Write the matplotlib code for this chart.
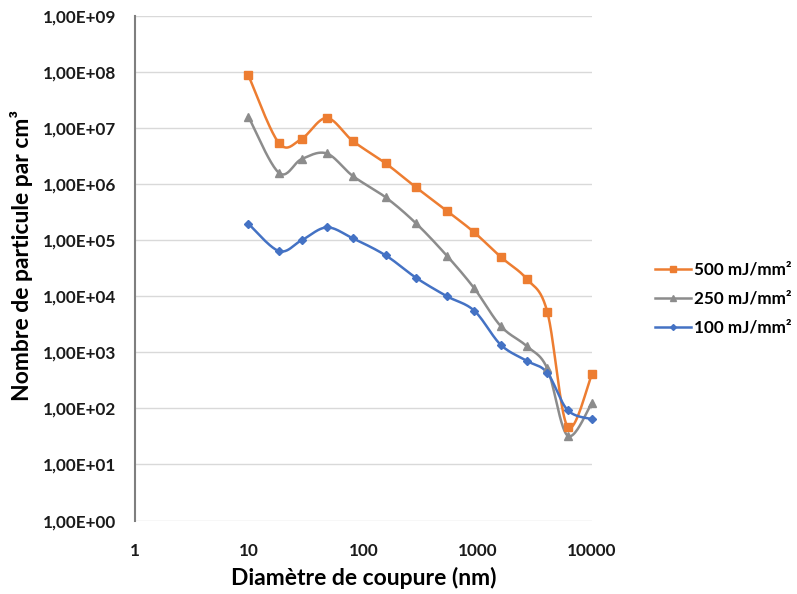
import matplotlib
matplotlib.use("Agg")
import matplotlib.pyplot as plt
from matplotlib.lines import Line2D
import numpy as np

plt.rcParams["font.family"] = ["Lato", "DejaVu Sans"]
plt.rcParams["font.weight"] = "bold"

# Diamètres de coupure (nm) et concentrations pour chaque fluence
diametres = [9.9, 18.3, 28.9, 47.9, 81.3, 157, 289, 536, 934, 1590, 2680, 4060, 6120, 10000]
conc_500 = [8.6e7, 5.36e6, 6.4e6, 1.5e7, 5.8e6, 2.33e6, 8.7e5, 3.33e5, 1.37e5,
            5.0e4, 2.04e4, 5.3e3, 47, 414]
conc_250 = [1.58e7, 1.58e6, 2.78e6, 3.5e6, 1.38e6, 5.77e5, 1.99e5, 5.3e4, 1.38e4,
            2.93e3, 1.29e3, 516, 32.5, 126]
conc_100 = [1.95e5, 6.37e4, 9.9e4, 1.68e5, 1.07e5, 5.33e4, 2.13e4, 1.0e4, 5.5e3,
            1.36e3, 705, 431, 93, 64]

series_labels = ["500 mJ/mm²", "250 mJ/mm²", "100 mJ/mm²"]
y_ticks = [1e0, 1e1, 1e2, 1e3, 1e4, 1e5, 1e6, 1e7, 1e8, 1e9]
y_tick_labels = ["1,00E+00", "1,00E+01", "1,00E+02", "1,00E+03", "1,00E+04",
                 "1,00E+05", "1,00E+06", "1,00E+07", "1,00E+08", "1,00E+09"]
x_ticks = [1, 10, 100, 1000, 10000]
x_tick_labels = ["1", "10", "100", "1000", "10000"]


def courbe_lissee(x, y, n=25):
    # spline de Bezier (type Catmull-Rom) dans l'espace log-log
    pts = np.column_stack([np.log10(x), np.log10(y)])
    P = np.vstack([pts[0], pts, pts[-1]])
    t = np.linspace(0, 1, n)[:, None]
    segs = []
    for i in range(1, len(P) - 2):
        p0, p1, p2, p3 = P[i - 1], P[i], P[i + 1], P[i + 2]
        c1 = p1 + (p2 - p0) / 6
        c2 = p2 - (p3 - p1) / 6
        seg = (1 - t) ** 3 * p1 + 3 * (1 - t) ** 2 * t * c1 + 3 * (1 - t) * t ** 2 * c2 + t ** 3 * p2
        segs.append(seg if i == 1 else seg[1:])
    s = np.vstack(segs)
    return 10 ** s[:, 0], 10 ** s[:, 1]


fig = plt.figure(figsize=(7.97, 5.94), dpi=100)
ax = fig.add_axes([0.1688, 0.1237, 0.5740, 0.8499])

styles = [
    (conc_500, "#ED7D31", "s", 5.5),
    (conc_250, "#8C8C8C", "^", 5.5),
    (conc_100, "#4472C4", "D", 4.0),
]
handles = []
for (vals, col, mk, ms), lab in zip(styles, series_labels):
    xs, ys = courbe_lissee(diametres, vals)
    ax.plot(xs, ys, color=col, lw=1.8, clip_on=False, zorder=3)
    ax.plot(diametres, vals, linestyle="none", marker=mk, ms=ms, color=col,
            clip_on=False, zorder=4)
    handles.append(Line2D([], [], color=col, lw=1.8, marker=mk, ms=ms - 1, label=lab))

ax.set_xscale("log")
ax.set_yscale("log")
ax.set_xlim(1, 10000)
ax.set_ylim(1, 1e9)
ax.set_xticks(x_ticks)
ax.set_xticklabels(x_tick_labels)
ax.set_yticks(y_ticks)
ax.set_yticklabels(y_tick_labels)
ax.minorticks_off()
ax.tick_params(axis="both", length=0, labelsize=12.3, colors="#1a1a1a")
ax.tick_params(axis="y", pad=13)
ax.tick_params(axis="x", pad=16)

ax.grid(axis="y", color="#d9d9d9", lw=1)
ax.set_axisbelow(True)
for side in ["top", "right", "bottom"]:
    ax.spines[side].set_visible(False)
ax.spines["left"].set_color("#7f7f7f")
ax.spines["left"].set_linewidth(1.5)

ax.set_xlabel("Diamètre de coupure (nm)", fontsize=16.5, fontweight="bold", labelpad=6)
ax.set_ylabel("Nombre de particule par cm³", fontsize=16.5, fontweight="bold")
ax.yaxis.set_label_coords(-0.222, 0.526)

fig.legend(handles=handles, loc="center left", bbox_to_anchor=(0.822, 0.497),
           frameon=False, fontsize=12.3, handlelength=2.1, handletextpad=0.2,
           labelspacing=0.75, borderpad=0, borderaxespad=0)

fig.savefig("out.png", dpi=100)
